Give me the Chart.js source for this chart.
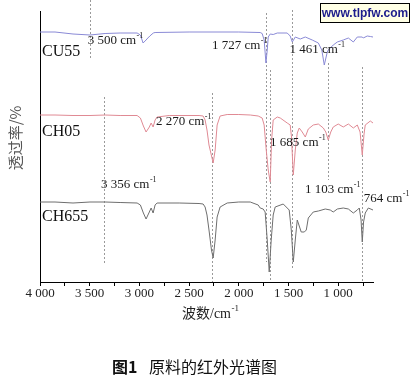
<!DOCTYPE html>
<html><head><meta charset="utf-8">
<script src="https://cdn.jsdelivr.net/npm/chart.js@4/dist/chart.umd.min.js"></script>
<style>html,body{margin:0;padding:0;background:#fff;}</style>
</head><body>
<canvas id="c" width="413" height="379"></canvas>
<script>
// ---- data (wavenumber cm-1, transmittance in arbitrary offset units) ----
const wnCU55 = [4000,3849,3668,3497,3345,3194,3023,2990,2963,2933,2915,2895,2860,2842,2500,2000,1785,1765,1745,1727,1714,1704,1684,1654,1613,1513,1483,1462,1432,1382,1331,1261,1200,1165,1140,1110,1100,1050,1009,949,898,848,808,758,748,708,677,650];
const tCU55  = [250,250,248,247,248.5,249,249,247,239,242,244,246,249,249.5,250,250,249.5,248.5,242,219,232,245,248,247.5,249,249,246,240,245,243,245,242,239,232,217,230,232,237,240,242,244,240,245,245,244,246,245.5,245];

const wnCH05 = [4000,3849,3668,3497,3345,3194,3023,2990,2960,2933,2900,2882,2862,2842,2822,2700,2400,2359,2339,2320,2300,2258,2238,2218,2188,2117,2000,1885,1805,1765,1745,1724,1704,1684,1670,1654,1613,1583,1513,1483,1470,1452,1432,1412,1392,1362,1331,1301,1251,1200,1150,1125,1100,1075,1050,1000,949,898,848,808,780,758,740,728,677,650];
const tCH05  = [167,167,166.5,166.5,167,166.5,166.5,164,156,150,155,159,155,162,165,166.5,166.5,166,162,152,137,119,132,157,166,167.5,167.5,167,166,164,157,132,112,100,142,162,165,164,159,157,145,107,132,149,154,150,145,153,157,158,154,150,142,150,155,158,155,158,154,157,150,127,148,157,161,159];

const wnCH655 = [4000,3849,3668,3497,3345,3194,3023,2990,2960,2933,2900,2882,2862,2842,2822,2600,2400,2359,2339,2320,2300,2275,2258,2238,2218,2188,2117,2000,1885,1805,1785,1755,1735,1714,1694,1674,1654,1634,1553,1493,1472,1452,1432,1412,1392,1372,1341,1321,1301,1251,1200,1130,1080,1050,1009,949,898,848,808,788,770,758,745,728,697,650];
const tCH655  = [80,80,79,80,80,79.5,79,77,69,63,70,74,69,77,79,79,78.5,78,75,67,52,32,24,42,65,75,79,80,80,77,74,73,70,42,10,42,67,75,78,72,52,20,42,62,56,50,50,52,64,70,71,73,72,70,73,74,73,69,72,74,62,40,60,69,74,72];

const seriesNames = ['CU55','CH05','CH655'];
const seriesNameLevels = [230,150,65];

const xTickValues = [4000,3750,3500,3250,3000,2750,2500,2250,2000,1750,1500,1250,1000,750];

// marked peaks: wavenumber, label, dashed line span (y values), label y value, label x offset
const peakWn     = [3500, 1727, 1461, 2270, 1685, 3356, 1103, 764];
const peakLabels = ['3 500 cm','1 727 cm','1 461 cm','2 270 cm','1 685 cm','3 356 cm','1 103 cm','764 cm'];
const peakLineTop = [282, 269, 272, 189, 212, 185, 219, 215];
const peakLineBot = [222, 20, 12, 0, 0, 17, 102, 0];
const peakLabelY  = [241, 236, 232, 160, 139, 97, 92, 83];
const peakLabelDx = [-2, -54, -3, -56, 0, -3, -23, 2];

const toPts = (xs, ys) => xs.map((x,i)=>({x:x, y:ys[i]}));
const fmt = v => v >= 1000 ? Math.floor(v/1000) + ' ' + String(v%1000).padStart(3,'0') : String(v);

function supText(ctx, x, y, main, sup, size, family, weight){
  ctx.textBaseline = 'middle'; ctx.textAlign = 'left';
  ctx.font = (weight||'') + ' ' + size + 'px ' + family;
  ctx.fillText(main, x, y);
  const w = ctx.measureText(main).width;
  ctx.font = Math.round(size*0.62) + 'px ' + family;
  ctx.fillText(sup, x + w + 0.5, y - size*0.38);
  return w + 0.5 + ctx.measureText(sup).width;
}
function supWidth(ctx, main, sup, size, family){
  ctx.font = size + 'px ' + family;
  const w = ctx.measureText(main).width;
  ctx.font = Math.round(size*0.62) + 'px ' + family;
  return w + 0.5 + ctx.measureText(sup).width;
}

const SERIF = '"Liberation Serif", "Times New Roman", serif';
const CJK = '"Noto Sans CJK SC", sans-serif';

const deco = {
  id: 'deco',
  beforeDatasetsDraw(chart){
    const ctx = chart.ctx, xs = chart.scales.x, ys = chart.scales.y;
    ctx.save();
    ctx.strokeStyle = '#9a9a9a'; ctx.lineWidth = 1; ctx.setLineDash([2,2]);
    peakWn.forEach((w,i)=>{
      const x = Math.round(xs.getPixelForValue(w)) + 0.5;
      ctx.beginPath();
      ctx.moveTo(x, ys.getPixelForValue(peakLineTop[i]));
      ctx.lineTo(x, ys.getPixelForValue(peakLineBot[i]));
      ctx.stroke();
    });
    ctx.restore();
  },
  afterDraw(chart){
    const ctx = chart.ctx, xs = chart.scales.x, ys = chart.scales.y, ca = chart.chartArea;
    ctx.save();
    // peak labels
    ctx.fillStyle = '#1a1a1a';
    peakWn.forEach((w,i)=>{
      const x = xs.getPixelForValue(w) + peakLabelDx[i];
      supText(ctx, x, ys.getPixelForValue(peakLabelY[i]), peakLabels[i], '-1', 13, SERIF);
    });
    // series names
    ctx.fillStyle = '#111';
    ctx.font = '16px ' + SERIF; ctx.textAlign = 'left'; ctx.textBaseline = 'middle';
    seriesNames.forEach((n,i)=> ctx.fillText(n, ca.left + 2, ys.getPixelForValue(seriesNameLevels[i])));
    // x title
    ctx.fillStyle = '#222';
    ctx.font = '14px ' + CJK;
    const wCJK = ctx.measureText('波数').width;
    const wRest = supWidth(ctx, '/cm', '-1', 14, SERIF);
    const total = wCJK + wRest;
    let x0 = (ca.left + ca.right)/2 + 4 - total/2;
    ctx.textBaseline = 'middle'; ctx.textAlign = 'left';
    ctx.font = '14px ' + CJK; ctx.fillText('波数', x0, 313);
    supText(ctx, x0 + wCJK, 314, '/cm', '-1', 14, SERIF);
    // y title
    ctx.save();
    ctx.translate(15, 138); ctx.rotate(-Math.PI/2);
    ctx.fillStyle = '#555'; ctx.font = '15px ' + CJK; ctx.textAlign = 'center'; ctx.textBaseline = 'middle';
    ctx.fillText('透过率/%', 0, 0);
    ctx.restore();
    // caption
    ctx.fillStyle = '#111'; ctx.textAlign = 'left'; ctx.textBaseline = 'middle';
    ctx.font = 'bold 16px ' + CJK; ctx.fillText('图1', 112, 367);
    ctx.font = '16px ' + CJK; ctx.fillText('原料的红外光谱图', 149, 367);
    // watermark
    ctx.fillStyle = '#ffffe6'; ctx.fillRect(320.5, 3.5, 89, 19);
    ctx.strokeStyle = '#000'; ctx.lineWidth = 1; ctx.strokeRect(320.5, 3.5, 89, 19);
    ctx.fillStyle = '#1c1c8c'; ctx.font = 'bold 12px "Liberation Sans", Arial, sans-serif';
    ctx.textAlign = 'center'; ctx.fillText('www.tlpfw.com', 365, 13.5);
    ctx.restore();
  }
};

new Chart(document.getElementById('c'), {
  type: 'line',
  data: {
    datasets: [
      {label: seriesNames[0], data: toPts(wnCU55, tCU55), borderColor: '#8a8ad6', borderWidth: 1, pointRadius: 0, tension: 0},
      {label: seriesNames[1], data: toPts(wnCH05, tCH05), borderColor: '#e08a94', borderWidth: 1, pointRadius: 0, tension: 0},
      {label: seriesNames[2], data: toPts(wnCH655, tCH655), borderColor: '#6e6e6e', borderWidth: 1, pointRadius: 0, tension: 0}
    ]
  },
  options: {
    responsive: false, animation: false, devicePixelRatio: 1,
    layout: {padding: {left: 0, right: 40, top: 11, bottom: 0}},
    plugins: {legend: {display: false}, tooltip: {enabled: false}},
    scales: {
      x: {
        type: 'linear', reverse: true, min: 650, max: 4000,
        afterFit: s => { s.height = 97; },
        afterBuildTicks: s => { s.ticks = xTickValues.map(v => ({value: v})); },
        ticks: {autoSkip: false, maxRotation: 0, padding: 0, color: '#222',
          font: {family: SERIF, size: 13},
          callback: v => (v % 500 === 0 ? fmt(v) : '')},
        grid: {drawOnChartArea: false, drawTicks: true, tickLength: 4, color: '#000'},
        border: {color: '#000', width: 1}
      },
      y: {
        min: 0, max: 271,
        afterFit: s => { s.width = 40; },
        ticks: {display: false},
        grid: {drawOnChartArea: false, drawTicks: false},
        border: {color: '#000', width: 1}
      }
    }
  },
  plugins: [deco]
});
</script>
</body></html>
